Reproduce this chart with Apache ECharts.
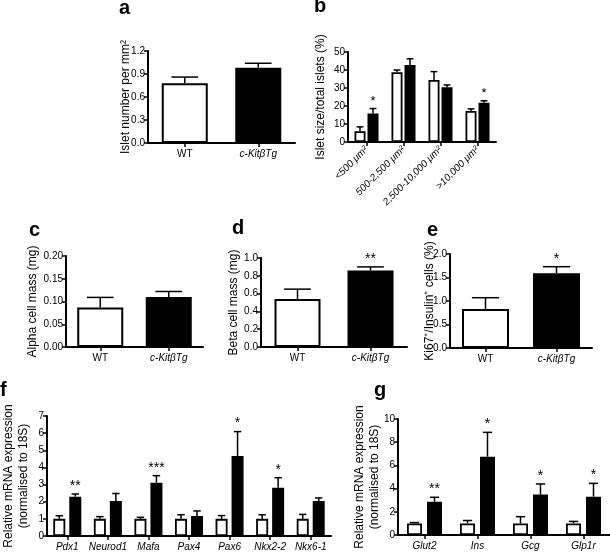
<!DOCTYPE html>
<html><head><meta charset="utf-8">
<script src="https://cdn.jsdelivr.net/npm/echarts@6/dist/echarts.min.js"></script>
<style>html,body{margin:0;padding:0;background:#fff}#c{width:610px;height:552px}</style>
</head><body><div id="c"></div><script>
// ---------------- DATA ----------------
const genotypes = ['WT', 'c-KitβTg'];

// a: islet number per mm²
const isletNumberMean = [0.78, 0.98];
const isletNumberSem  = [0.08, 0.06];
const isletNumberStars = ['', ''];
const isletNumberTicks = [0, 1.2, 0.3];

// b: islet size distribution
const sizeCategories = ['<500 μm²', '500-2,500 μm²', '2,500-10,000 μm²', '>10,000 μm²'];
const sizeWTMean = [6.0, 38.8, 34.5, 17.2];
const sizeWTSem  = [2.4, 1.2, 4.6, 1.2];
const sizeTgMean = [15.8, 42.8, 30.4, 21.8];
const sizeTgSem  = [2.8, 3.4, 1.3, 1.1];
const sizeStars  = ['*', '', '', '*'];
const sizeTicks  = [0, 50, 10];

// c: alpha cell mass
const alphaMean = [0.087, 0.110];
const alphaSem  = [0.022, 0.012];
const alphaStars = ['', ''];
const alphaTicks = [0, 0.2, 0.05];

// d: beta cell mass
const betaMean = [0.54, 0.86];
const betaSem  = [0.11, 0.04];
const betaStars = ['', '**'];
const betaTicks = [0, 1.0, 0.2];

// e: Ki67+/Insulin+ cells
const ki67Mean = [0.83, 1.59];
const ki67Sem  = [0.24, 0.14];
const ki67Stars = ['', '*'];
const ki67Ticks = [0, 2.0, 0.5];

// f: transcription factors
const tfGenes = ['Pdx1', 'Neurod1', 'Mafa', 'Pax4', 'Pax6', 'Nkx2-2', 'Nkx6-1'];
const tfWTMean = [1, 1, 1, 1, 1, 1, 1];
const tfWTSem  = [0.18, 0.13, 0.09, 0.24, 0.19, 0.24, 0.26];
const tfTgMean = [2.29, 2.04, 3.11, 1.17, 4.67, 2.82, 2.04];
const tfTgSem  = [0.16, 0.44, 0.41, 0.29, 1.42, 0.58, 0.18];
const tfStars  = ['**', '', '***', '', '*', '*', ''];
const tfTicks  = [0, 7, 1];

// g: beta cell markers
const markerGenes = ['Glut2', 'Ins', 'Gcg', 'Glp1r'];
const mkWTMean = [1, 1, 1, 1];
const mkWTSem  = [0.07, 0.25, 0.58, 0.17];
const mkTgMean = [2.87, 6.75, 3.5, 3.3];
const mkTgSem  = [0.38, 2.1, 0.9, 1.15];
const mkStars  = ['**', '*', '*', '*'];
const mkTicks  = [0, 10, 2];

// ---------------- LAYOUT / STYLE ----------------
const FONT = '"Liberation Sans", Arial, Helvetica, sans-serif';
const grids = [], xAxes = [], yAxes = [], series = [], graphics = [];

function decimalsOf(step) { const s = String(step); return s.includes('.') ? s.split('.')[1].length : 0; }

function addPanel(p) {
  const gi = grids.length;
  grids.push(Object.assign({ containLabel: false }, p.grid));
  const dec = p.decimals != null ? p.decimals : decimalsOf(p.ticks[2]);
  xAxes.push({
    type: 'category', gridIndex: gi, data: p.cats, boundaryGap: true,
    axisLine: { show: true, lineStyle: { color: '#000', width: 2 } },
    axisTick: { show: true, alignWithLabel: true, length: 4, lineStyle: { color: '#000', width: 1.5 } },
    axisLabel: {
      color: '#000', fontSize: 10, fontFamily: FONT, margin: p.labelMargin || 6, interval: 0,
      rotate: p.rotate || 0,
      formatter: v => (p.italicAll || v !== 'WT') ? '{i|' + v + '}' : v,
      rich: { i: { fontStyle: 'italic', fontSize: 10, fontFamily: FONT, color: '#000' } }
    },
    splitLine: { show: false }
  });
  yAxes.push({
    type: 'value', gridIndex: gi, min: p.ticks[0], max: p.ticks[1], interval: p.ticks[2],
    axisLine: { show: true, lineStyle: { color: '#000', width: 2 } },
    axisTick: { show: true, length: 4, lineStyle: { color: '#000', width: 1.5 } },
    axisLabel: { color: '#000', fontSize: 10, fontFamily: FONT, margin: 3, formatter: v => v.toFixed(dec) },
    splitLine: { show: false },
    name: p.yName, nameLocation: 'middle', nameRotate: 90, nameGap: p.nameGap, nameMoveOverlap: false,
    nameTextStyle: { color: '#000', fontSize: 12, fontFamily: FONT, lineHeight: 15 }
  });
  const bw = p.barWidth;
  if (p.single) {
    const fills = ['#fff', '#000'];
    series.push({
      type: 'bar', xAxisIndex: gi, yAxisIndex: gi, barWidth: bw,
      data: p.mean.map((m, i) => ({ value: m, itemStyle: { color: fills[i], borderColor: '#000', borderWidth: 2 } })),
      silent: true, z: 2
    });
    series.push(errSeries(gi, p.mean, p.sem, 0, bw * 0.58, p.stars, p.starSize));
  } else {
    const gapPct = (p.gap / bw * 100) + '%';
    const off = (bw + p.gap) / 2;
    series.push({
      type: 'bar', xAxisIndex: gi, yAxisIndex: gi, barWidth: bw, barGap: gapPct, silent: true, z: 2,
      data: p.wtMean, itemStyle: { color: '#fff', borderColor: '#000', borderWidth: 1.8 }
    });
    series.push({
      type: 'bar', xAxisIndex: gi, yAxisIndex: gi, barWidth: bw, barGap: gapPct, silent: true, z: 2,
      data: p.tgMean, itemStyle: { color: '#000', borderColor: '#000', borderWidth: 1.8 }
    });
    series.push(errSeries(gi, p.wtMean, p.wtSem, -off, bw * 0.62, null, p.starSize));
    series.push(errSeries(gi, p.tgMean, p.tgSem, off, bw * 0.62, p.stars, p.starSize));
  }
  graphics.push({
    type: 'text', left: p.letterPos[0], top: p.letterPos[1],
    style: { text: p.letter, fill: '#000', font: 'bold 20px ' + FONT }
  });
}

function errSeries(gi, means, sems, offsetPx, capPx, stars, starSize) {
  return {
    type: 'custom', xAxisIndex: gi, yAxisIndex: gi, z: 3, silent: true,
    data: means.map((m, i) => [i, m, m + sems[i]]),
    renderItem(params, api) {
      const i = api.value(0);
      const b = api.coord([i, api.value(1)]);
      const t = api.coord([i, api.value(2)]);
      const x = b[0] + offsetPx;
      const st = { stroke: '#000', lineWidth: 1.5 };
      const ch = [
        { type: 'line', shape: { x1: x, y1: b[1], x2: x, y2: t[1] }, style: st },
        { type: 'line', shape: { x1: x - capPx / 2, y1: t[1], x2: x + capPx / 2, y2: t[1] }, style: st }
      ];
      const s = stars ? stars[params.dataIndex] : '';
      if (s) ch.push({ type: 'text', style: { text: s, x: x, y: t[1] - 1, align: 'center', verticalAlign: 'bottom', fill: '#000', font: (starSize || 14) + 'px ' + FONT } });
      return { type: 'group', children: ch };
    }
  };
}

addPanel({ letter: 'a', letterPos: [119, -2], grid: { left: 148, top: 51, width: 147, height: 92 },
  cats: genotypes, single: true, mean: isletNumberMean, sem: isletNumberSem, stars: isletNumberStars,
  ticks: isletNumberTicks, yName: 'Islet number per mm²', nameGap: 15, barWidth: 46 });
addPanel({ letter: 'b', letterPos: [314, -4], grid: { left: 348, top: 52, width: 148, height: 90 },
  cats: sizeCategories, italicAll: false, rotate: 45, labelMargin: 6,
  wtMean: sizeWTMean, wtSem: sizeWTSem, tgMean: sizeTgMean, tgSem: sizeTgSem, stars: sizeStars,
  ticks: sizeTicks, yName: 'Islet size/total islets (%)', nameGap: 20, barWidth: 11, gap: 2, starSize: 13 });
addPanel({ letter: 'c', letterPos: [29, 220], grid: { left: 66, top: 256, width: 137, height: 91 },
  cats: genotypes, single: true, mean: alphaMean, sem: alphaSem, stars: alphaStars,
  ticks: alphaTicks, yName: 'Alpha cell mass (mg)', nameGap: 26, barWidth: 46 });
addPanel({ letter: 'd', letterPos: [232, 218], grid: { left: 261, top: 258, width: 146, height: 89 },
  cats: genotypes, single: true, mean: betaMean, sem: betaSem, stars: betaStars,
  ticks: betaTicks, yName: 'Beta cell mass (mg)', nameGap: 20, barWidth: 46 });
addPanel({ letter: 'e', letterPos: [427, 220], grid: { left: 450, top: 254, width: 142, height: 94 },
  cats: genotypes, single: true, mean: ki67Mean, sem: ki67Sem, stars: ki67Stars,
  ticks: ki67Ticks, yName: 'Ki67⁺/Insulin⁺ cells (%)', nameGap: 13, barWidth: 47 });
addPanel({ letter: 'f', letterPos: [0, 380], grid: { left: 44, top: 416, width: 287, height: 120 },
  cats: tfGenes, italicAll: true,
  wtMean: tfWTMean, wtSem: tfWTSem, tgMean: tfTgMean, tgSem: tfTgSem, stars: tfStars,
  ticks: tfTicks, yName: 'Relative mRNA expression\n(normalised to 18S)', nameGap: 16, barWidth: 12, gap: 4 });
addPanel({ letter: 'g', letterPos: [374, 380], grid: { left: 398, top: 419, width: 212, height: 116 },
  cats: markerGenes, italicAll: true,
  wtMean: mkWTMean, wtSem: mkWTSem, tgMean: mkTgMean, tgSem: mkTgSem, stars: mkStars,
  ticks: mkTicks, yName: 'Relative mRNA expression\n(normalised to 18S)', nameGap: 16, barWidth: 15, gap: 5 });

const chart = echarts.init(document.getElementById('c'), null, { renderer: 'canvas' });
chart.setOption({
  backgroundColor: '#fff', animation: false,
  grid: grids, xAxis: xAxes, yAxis: yAxes, series: series, graphic: graphics
});
</script></body></html>
